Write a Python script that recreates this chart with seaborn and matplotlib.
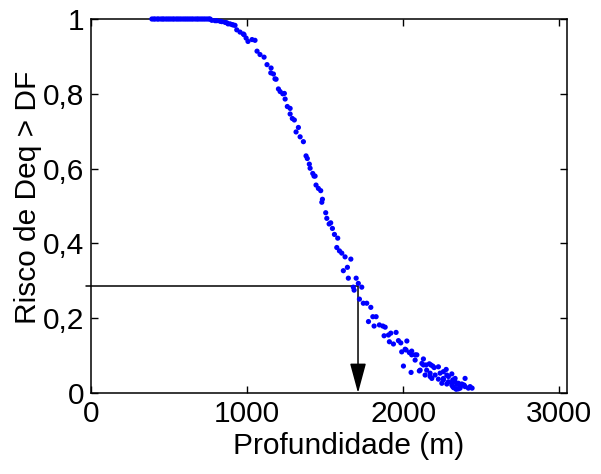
import matplotlib
matplotlib.use("Agg")
import matplotlib.pyplot as plt
import seaborn as sns
import pandas as pd

# depth (m) and risk values
prof = [390, 402, 411, 425, 433, 447, 458, 466, 479, 490, 501, 512, 524, 533, 546,
        556, 567, 578, 590, 601, 612, 623, 634, 645, 655, 668, 679, 688, 700, 711,
        722, 733, 745, 756, 763,
        774, 795, 806, 827, 838, 859, 870, 878, 891, 904, 912, 923, 934, 955, 976,
        981, 994, 1006, 1032, 1051, 1064, 1083, 1109, 1128, 1152, 1154, 1169, 1179,
        1186, 1201, 1212, 1229, 1239, 1244, 1258, 1276, 1276, 1290, 1303, 1329, 1314,
        1340, 1361, 1378, 1386, 1399, 1404, 1421, 1429, 1436, 1442, 1457, 1472, 1483,
        1479, 1504, 1511, 1526, 1536, 1547, 1560, 1581, 1575, 1592, 1607, 1628, 1665,
        1643, 1617, 1649, 1699, 1681, 1713, 1735, 1686, 1720, 1745, 1767, 1793, 1806,
        1827, 1778, 1814, 1848, 1870, 1885, 1878, 1906, 1921, 1955, 1912, 1938, 1970,
        1985, 2024, 2013, 1991, 2019, 2040, 2055, 2055, 2077, 2088, 2077, 2002, 2051,
        2109, 2130, 2130, 2120, 2147, 2168, 2178, 2190, 2199, 2226, 2151, 2141, 2104,
        2173, 2173, 2205, 2237, 2258, 2276, 2280, 2312, 2184, 2226, 2258, 2258, 2290,
        2290, 2312, 2318, 2333, 2333, 2354, 2376, 2397, 2397, 2418, 2365, 2340, 2318,
        2280, 2248, 2387, 2429, 2312, 2344, 2365, 2391, 2354, 2324, 2442]
risco = [1.0, 1.0, 1.0, 1.0, 1.0, 1.0, 1.0, 1.0, 1.0, 1.0, 1.0, 1.0, 1.0, 1.0, 1.0,
         1.0, 1.0, 1.0, 1.0, 1.0, 1.0, 1.0, 1.0, 1.0, 1.0, 1.0, 1.0, 1.0, 1.0, 1.0,
         1.0, 1.0, 1.0, 1.0, 1.0,
         0.9965, 0.9955, 0.9955, 0.994, 0.993, 0.991, 0.990, 0.987, 0.987, 0.985, 0.984,
         0.983, 0.971, 0.965, 0.960, 0.958, 0.949, 0.940, 0.945, 0.943, 0.914, 0.905,
         0.898, 0.878, 0.856, 0.869, 0.853, 0.840, 0.839, 0.813, 0.806, 0.800, 0.801,
         0.786, 0.766, 0.761, 0.746, 0.734, 0.730, 0.710, 0.698, 0.685, 0.672, 0.634,
         0.627, 0.612, 0.601, 0.587, 0.580, 0.580, 0.556, 0.547, 0.541, 0.518, 0.510,
         0.482, 0.467, 0.452, 0.455, 0.440, 0.424, 0.414, 0.389, 0.380, 0.374, 0.364,
         0.358, 0.336, 0.327, 0.307, 0.307, 0.283, 0.293, 0.283, 0.275, 0.251, 0.240,
         0.240, 0.229, 0.204, 0.204, 0.191, 0.179, 0.182, 0.179, 0.176, 0.153, 0.155,
         0.160, 0.162, 0.137, 0.131, 0.140, 0.134, 0.139, 0.117, 0.110, 0.115, 0.108,
         0.102, 0.112, 0.102, 0.102, 0.088, 0.072, 0.055, 0.061, 0.075, 0.091, 0.079,
         0.075, 0.078, 0.075, 0.072, 0.068, 0.070, 0.061, 0.048, 0.059, 0.053, 0.044,
         0.048, 0.053, 0.057, 0.063, 0.048, 0.051, 0.039, 0.037, 0.039, 0.035, 0.030,
         0.044, 0.028, 0.035, 0.030, 0.039, 0.026, 0.024, 0.039, 0.017, 0.013, 0.013,
         0.010, 0.017, 0.024, 0.026, 0.021, 0.017, 0.021, 0.023, 0.017, 0.021, 0.011,
         0.014, 0.013]

# reading of the chart: depth for the selected risk level
risco_ref = 0.285
prof_ref = 1711
linha_inicio = -32

x_ticks = [0, 1000, 2000, 3000]
x_ticklabels = ["0", "1000", "2000", "3000"]
y_ticks = [0, 0.2, 0.4, 0.6, 0.8, 1.0]
y_ticklabels = ["0", "0,2", "0,4", "0,6", "0,8", "1"]

df = pd.DataFrame({"Profundidade": prof, "Risco": risco})

sns.set_style("ticks")
plt.rcParams["font.family"] = ["Liberation Sans", "DejaVu Sans"]
plt.rcParams["text.color"] = "black"
plt.rcParams["axes.labelcolor"] = "black"
plt.rcParams["xtick.color"] = "black"
plt.rcParams["ytick.color"] = "black"

fig = plt.figure(figsize=(6.01, 4.74), dpi=100)
ax = fig.add_axes([0.1514, 0.1709, 0.792, 0.789])

sns.scatterplot(data=df, x="Profundidade", y="Risco", ax=ax, color="#0000ff",
                s=14, linewidth=0, edgecolor="none", marker="o", clip_on=False,
                zorder=5, legend=False)

ax.plot([linha_inicio, prof_ref], [risco_ref, risco_ref], color="black", lw=1.1,
        clip_on=False, zorder=4)
ax.annotate("", xy=(prof_ref, 0), xytext=(prof_ref, risco_ref),
            arrowprops=dict(arrowstyle="-|>,head_length=1.85,head_width=0.5",
                            color="black", lw=1.1, shrinkA=0, shrinkB=0,
                            mutation_scale=10),
            zorder=4)

ax.set_xlim(0, 3050)
ax.set_ylim(0, 1)
ax.set_xticks(x_ticks)
ax.set_xticklabels(x_ticklabels)
ax.set_yticks(y_ticks)
ax.set_yticklabels(y_ticklabels)
ax.tick_params(direction="in", length=5, width=1.0, top=True, right=True,
               labelsize=21.5, pad=5, colors="black")
for sp in ax.spines.values():
    sp.set_visible(True)
    sp.set_linewidth(1.1)
    sp.set_color("black")

ax.set_xlabel("Profundidade (m)", fontsize=21.5, color="black")
ax.set_ylabel("Risco de Deq > DF", fontsize=21.5, color="black")
ax.xaxis.set_label_coords(0.542, -0.105)
ax.yaxis.set_label_coords(-0.103, 0.524)

fig.savefig("out.png", dpi=100)
